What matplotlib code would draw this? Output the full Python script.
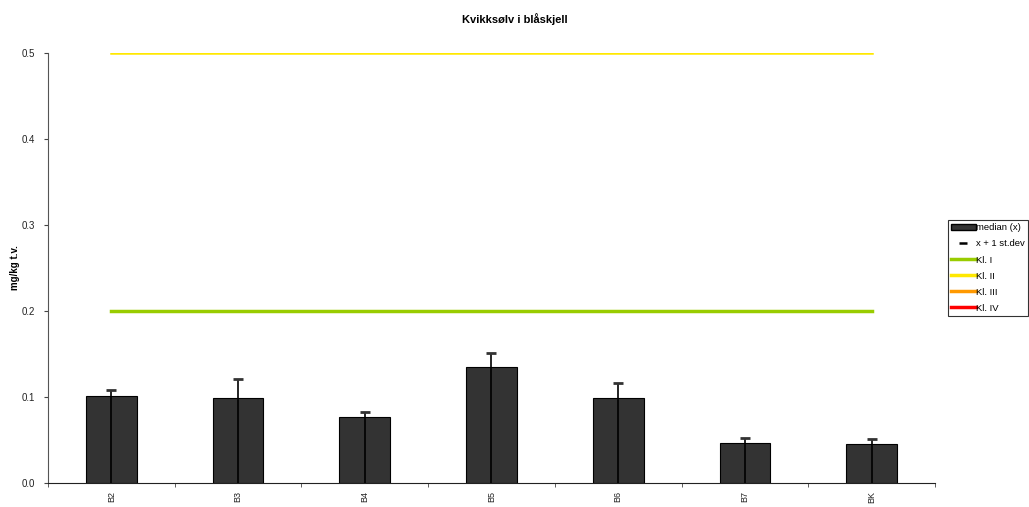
import matplotlib
matplotlib.use("Agg")
import matplotlib.pyplot as plt
import numpy as np
from matplotlib.patches import Patch
from matplotlib.lines import Line2D

plt.rcParams['font.family'] = ['Liberation Sans', 'DejaVu Sans']

# data
stations = ['B2', 'B3', 'B4', 'B5', 'B6', 'B7', 'BK']
median = [0.101, 0.099, 0.077, 0.135, 0.099, 0.0465, 0.045]
median_plus_sd = [0.108, 0.121, 0.083, 0.151, 0.116, 0.052, 0.051]

# class limits (Kl. III and IV lie above the plotted range)
class_names = ['Kl. I', 'Kl. II', 'Kl. III', 'Kl. IV']
class_limits = [0.2, 0.5, 1.5, 4.0]
class_colors = ['#99cc00', '#ffe800', '#ff9900', '#ff0000']
class_widths = [2.5, 1.8, 2.5, 2.5]

fig = plt.figure(figsize=(10.29, 5.07), dpi=100)
ax = fig.add_axes([0.0466, 0.0473, 0.862, 0.848])

x = np.arange(len(stations))

ax.bar(x, median, width=0.4, color='#333333', edgecolor='black', linewidth=0.8, zorder=2)
ax.vlines(x, 0, median_plus_sd, color='black', linewidth=1.2, zorder=3)
ax.plot(x, median_plus_sd, linestyle='none', marker='_', markersize=7,
        markeredgewidth=2, color='#333333', zorder=3)

for lim, col, lw in zip(class_limits, class_colors, class_widths):
    ax.plot([x[0], x[-1]], [lim, lim], color=col, linewidth=lw, zorder=1)

ax.set_xlim(-0.5, len(stations) - 0.5)
ax.set_ylim(0, 0.5)
ax.set_yticks([0.0, 0.1, 0.2, 0.3, 0.4, 0.5])
ax.set_yticklabels(['0.0', '0.1', '0.2', '0.3', '0.4', '0.5'], fontsize=7, color='#222222')
ax.set_xticks(x)
ax.set_xticklabels(stations, rotation=90, fontsize=6.5, color='#222222')
ax.tick_params(axis='x', which='major', length=0, pad=6)
ax.set_xticks(np.arange(-0.5, len(stations), 1.0), minor=True)
ax.tick_params(axis='x', which='minor', length=3, direction='out', color='#444444')
ax.tick_params(axis='y', length=3, direction='out', color='#444444', pad=6)

ax.spines['top'].set_visible(False)
ax.spines['right'].set_visible(False)
ax.spines['left'].set_color('#555555')
ax.spines['bottom'].set_color('#222222')

ax.set_ylabel('mg/kg t.v.', fontsize=7, fontweight='bold')
ax.yaxis.set_label_coords(-0.031, 0.5)
fig.text(0.5, 0.975, 'Kvikksølv i blåskjell', ha='center', va='top',
         fontsize=8, fontweight='bold')

handles = [Patch(facecolor='#333333', edgecolor='black', label='median (x)'),
           Line2D([], [], linestyle='none', marker='_', markersize=6, markeredgewidth=1.8,
                  color='black', label='x + 1 st.dev')]
for name, col in zip(class_names, class_colors):
    handles.append(Line2D([], [], color=col, linewidth=2.5, label=name))

leg = fig.legend(handles=handles, loc='upper left', bbox_to_anchor=(0.921, 0.566),
                 fontsize=6.8, frameon=True, fancybox=False, borderpad=0.35,
                 labelspacing=0.75, handlelength=2.6, handletextpad=0.05,
                 borderaxespad=0)
leg.get_frame().set_edgecolor('black')
leg.get_frame().set_linewidth(0.8)

fig.savefig('out.png', dpi=100)
